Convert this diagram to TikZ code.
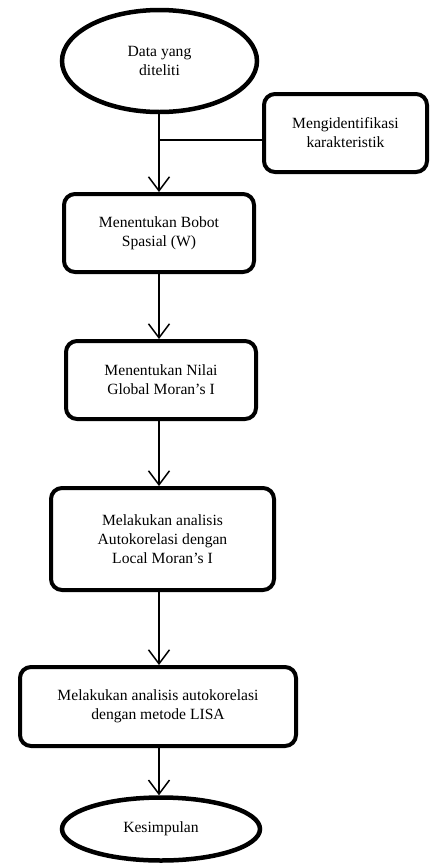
\documentclass[tikz,border=0pt]{standalone}
\usepackage{fontspec}
\setmainfont{Liberation Serif}
\usetikzlibrary{shapes.geometric,arrows.meta}
\begin{document}
\begin{tikzpicture}[x=1pt,y=-1pt,
  every node/.style={font=\fontsize{15.6pt}{19pt}\selectfont, align=center, inner sep=0pt},
  procbox/.style={draw, line width=4pt, rounded corners=11pt, rectangle},
  termin/.style={draw, line width=4.5pt, ellipse},
  flow/.style={line width=1.5pt, -{Straight Barb[length=14pt,width=21pt,line width=1.5pt]}},
  plain/.style={line width=1.5pt}]
\useasboundingbox (0,0) rectangle (430,863);
\node[termin, minimum width=195pt, minimum height=102pt] (start) at (159.5,61) {Data yang\\diteliti};
\node[procbox, minimum width=163pt, minimum height=78pt] (ident) at (345.5,133) {Mengidentifikasi\\karakteristik};
\node[procbox, minimum width=190pt, minimum height=78pt] (b1) at (159,233) {Menentukan Bobot\\Spasial (W)};
\node[procbox, minimum width=190pt, minimum height=78pt] (b2) at (161,380) {Menentukan Nilai\\Global Moran’s I};
\node[procbox, minimum width=223pt, minimum height=102pt] (b3) at (162.5,539) {Melakukan analisis\\Autokorelasi dengan\\Local Moran’s I};
\node[procbox, minimum width=276pt, minimum height=79pt] (b4) at (158,706.5) {Melakukan analisis autokorelasi\\dengan metode LISA};
\node[termin, minimum width=198pt, minimum height=63pt] (end) at (161,829) {Kesimpulan};
\coordinate (j) at (159,140);
\coordinate (s) at (159,114);
\draw[plain] (ident.west |- j) -- (j);
\draw[flow] (s) -- (s |- b1.north);
\draw[flow] (b1.south -| s) -- (s |- b2.north);
\draw[flow] (b2.south -| s) -- (s |- b3.north);
\draw[flow] (b3.south -| s) -- (s |- b4.north);
\draw[flow] (b4.south -| s) -- (s |- end.north);
\end{tikzpicture}
\end{document}
